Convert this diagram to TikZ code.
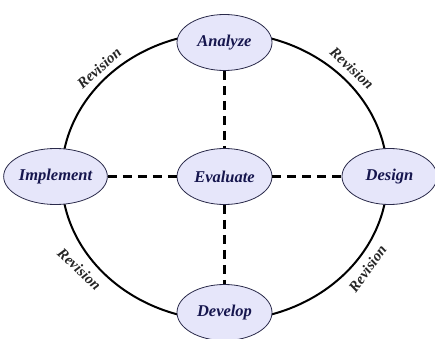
\documentclass[tikz,border=0pt]{standalone}
\usepackage{fontspec}
\setmainfont{Liberation Serif}[BoldItalicFont={Liberation Serif Bold Italic}]
\usetikzlibrary{shapes.geometric}
\definecolor{nodefill}{HTML}{E6E6FA}
\definecolor{nodetext}{HTML}{16164E}
\definecolor{nodeline}{HTML}{2A2A4A}
\begin{document}
\begin{tikzpicture}[x=1pt,y=1pt,
  phase/.style={ellipse, draw=nodeline, line width=0.8pt, fill=nodefill,
    minimum width=95pt, minimum height=56pt, inner sep=0pt,
    text=nodetext, font=\fontsize{16.5}{18}\selectfont\bfseries\itshape},
  ring/.style={ellipse, draw=black, line width=2pt, minimum width=326pt,
    minimum height=288pt, inner sep=0pt},
  dashline/.style={draw=black, line width=2.6pt, dash pattern=on 9pt off 6pt},
  revlabel/.style={font=\fontsize{15}{17}\selectfont\bfseries\itshape, text=black!85, inner sep=0pt}]
\useasboundingbox (0,0) rectangle (435,338);
\node[ring] (ring) at (224.5,161.5) {};
\node[phase] (analyze) at (224.5,295.5) {Analyze};
\node[phase] (evaluate) at (224.5,161.5) {Evaluate};
\node[phase] (implement) at (55.5,161.5) {Implement};
\node[phase] (design) at (389.5,161.5) {Design};
\node[phase] (develop) at (224.5,25.5) {Develop};
\draw[dashline] (analyze) -- (evaluate);
\draw[dashline] (evaluate) -- (develop);
\draw[dashline] (implement) -- (evaluate);
\draw[dashline] (evaluate) -- (design);
\node[revlabel, rotate=42] (rev1) at (99,270) {Revision};
\node[revlabel, rotate=-42] (rev2) at (352,270) {Revision};
\node[revlabel, rotate=-43] (rev3) at (79.5,69) {Revision};
\node[revlabel, rotate=54] (rev4) at (367.5,69.5) {Revision};
\end{tikzpicture}
\end{document}
